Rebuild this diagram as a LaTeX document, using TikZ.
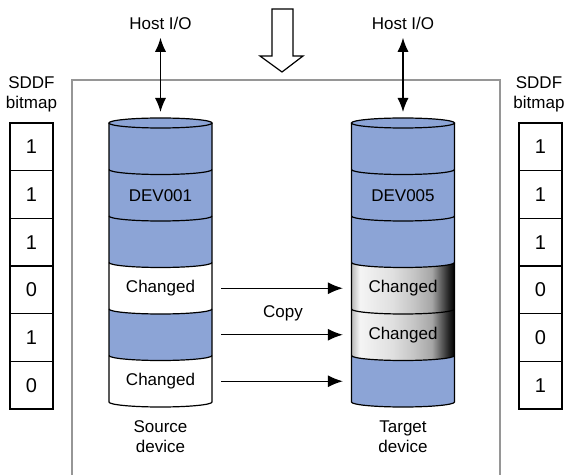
\documentclass[tikz,border=0pt]{standalone}
\usepackage{fontspec}
\setmainfont{Liberation Sans}
\usetikzlibrary{arrows.meta}
\definecolor{devblue}{RGB}{140,164,214}
\definecolor{framegray}{RGB}{150,150,150}
\pgfdeclarehorizontalshading{changedshade}{100bp}{color(0bp)=(gray!55); color(25bp)=(gray!55); color(29bp)=(gray!8); color(45bp)=(gray!25); color(55bp)=(gray!45); color(64bp)=(gray!70); color(72bp)=(black!85); color(75bp)=(black); color(100bp)=(black)}
\tikzset{
  cblue/.style={fill=devblue},
  cwhite/.style={fill=white},
  cshade/.style={shade, shading=changedshade},
  band/.style={minimum width=103pt, minimum height=46.5pt, inner sep=0pt},
  bitcell/.style={draw, line width=1.1pt, minimum width=43pt, minimum height=47.67pt, inner sep=0pt, font=\fontsize{20}{24}\selectfont},
  ioarrow/.style={{Latex[length=14pt,width=11pt]}-{Latex[length=14pt,width=11pt]}, line width=1.2pt},
  cparrow/.style={-{Latex[length=15pt,width=12pt]}, line width=1.2pt},
}

\begin{document}
\begin{tikzpicture}[x=1pt, y=1pt, font=\fontsize{17}{20}\selectfont]
\useasboundingbox (0,0) rectangle (570,474);

\draw[framegray, line width=1.5pt] (72,-2) |- (500,394) -- (500,-2);
\draw[fill=white, line width=1.2pt] (272,465) -- (293,465) -- (293,418) -- (303,418)
  -- (282,402) -- (260,418) -- (272,418) -- cycle;

\foreach \f/\txt [count=\i] in {cblue/{}, cblue/DEV001, cblue/{}, cwhite/Changed, cblue/{}, cwhite/Changed} {
  \pgfmathsetmacro\ytop{351-(\i-1)*46.5}
  \path[\f] (109,\ytop) -- (109,\ytop-46.5) arc[start angle=180, end angle=360, x radius=51.5, y radius=5]
    -- (212,\ytop) arc[start angle=0, end angle=-180, x radius=51.5, y radius=5] -- cycle;
  \node[band] (s\i) at (160.5,\ytop-25.75) {\txt};
}
\foreach \f/\txt [count=\i] in {cblue/{}, cblue/DEV005, cblue/{}, cshade/Changed, cshade/Changed, cblue/{}} {
  \pgfmathsetmacro\ytop{351-(\i-1)*46.5}
  \path[\f] (351.5,\ytop) -- (351.5,\ytop-46.5) arc[start angle=180, end angle=360, x radius=51.5, y radius=5]
    -- (454.5,\ytop) arc[start angle=0, end angle=-180, x radius=51.5, y radius=5] -- cycle;
  \node[band] (t\i) at (403,\ytop-25.75) {\txt};
}
\foreach \cx in {160.5, 403} {
  \draw[line width=1.2pt] (\cx-51.5,351) -- (\cx-51.5,72)
    arc[start angle=180, end angle=360, x radius=51.5, y radius=5] -- (\cx+51.5,351);
  \foreach \k in {1,...,5}
    \draw[line width=1.2pt] (\cx-51.5,351-\k*46.5) arc[start angle=180, end angle=360, x radius=51.5, y radius=5];
  \draw[fill=devblue, line width=1.2pt] (\cx,351) ellipse[x radius=51.5, y radius=5];
}

\foreach \i in {4,5,6}
  \draw[cparrow, shorten <=9pt, shorten >=8.5pt] (s\i) -- (t\i);
\node (copy) at (283,161) {Copy};

\node (hostL) at (160.5,451) {Host I/O};
\node (hostR) at (403,451) {Host I/O};
\coordinate (topL) at (160.5,356);
\coordinate (topR) at (403,356);
\draw[ioarrow, shorten <=5pt, shorten >=6pt] (hostL) -- (topL);
\draw[ioarrow, shorten <=5pt, shorten >=6pt] (hostR) -- (topR);

\node[align=center] (sddfL) at (31.5,379.5) {SDDF\\bitmap};
\node[align=center] (sddfR) at (539,379.5) {SDDF\\bitmap};
\foreach \v [count=\i] in {1,1,1,0,1,0}
  \node[bitcell] (bl\i) at (31.5,351-23.83-\i*47.67+47.67) {\v};
\foreach \v [count=\i] in {1,1,1,0,0,1}
  \node[bitcell] (br\i) at (540.5,351-23.83-\i*47.67+47.67) {\v};

\node[align=center] (src) at (160.5,37) {Source\\device};
\node[align=center] (tgt) at (403,37) {Target\\device};
\end{tikzpicture}
\end{document}
